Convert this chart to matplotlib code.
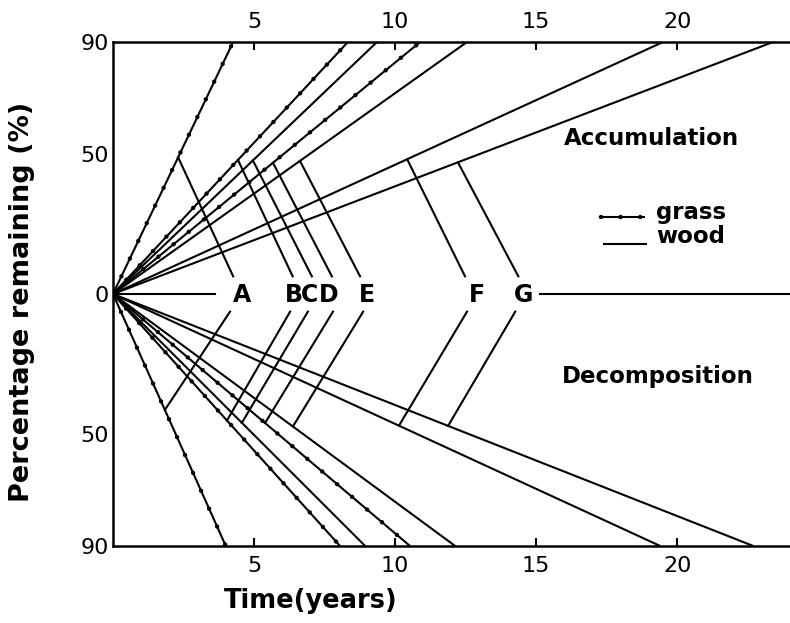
import matplotlib
matplotlib.use("Agg")
import matplotlib.pyplot as plt

# =========================
# Data
# =========================

LABELS = ["A", "B", "C", "D", "E", "F", "G"]
KIND = ["grass", "grass", "wood", "grass", "wood", "wood", "wood"]

# time (years) at which each accumulation / decomposition line reaches 90 %
ACCUM_T90 = [4.26, 8.33, 9.36, 10.89, 12.55, 19.5, 23.4]
DECOMP_T90 = [4.0, 8.05, 8.94, 10.53, 12.13, 19.4, 22.7]

# connector lines from the curves to the letters
UP_START_T = [2.31, 4.43, 4.96, 5.67, 6.63, 10.43, 12.23]
UP_START_Y = [48.8, 47.9, 47.7, 46.9, 47.5, 48.1, 47.0]
UP_END_T = [4.26, 6.37, 7.05, 7.76, 8.76, 12.48, 14.37]
LO_START_T = [4.15, 6.28, 6.91, 7.80, 8.87, 12.55, 14.26]
LO_END_T = [1.84, 4.04, 4.57, 5.39, 6.38, 10.14, 11.88]
LO_END_Y = [-41.4, -45.2, -46.0, -46.1, -47.3, -47.0, -47.1]

# letter positions on the zero line
LABEL_T = [4.57, 6.40, 6.97, 7.64, 9.02, 12.89, 14.57]

# zero line pieces
ZERO_SEGMENTS = [(0.0, 3.62), (15.14, 24.0)]

X_TICKS = [5, 10, 15, 20]
Y_TICKS = [-90, -50, 0, 50, 90]
Y_TICK_LABELS = ["90", "50", "0", "50", "90"]

# =========================
# Style
# =========================

LW = 1.5


def draw_line(ax, xs, ys, kind):
    ax.plot(xs, ys, color="black", lw=LW, solid_capstyle="butt", zorder=3)
    if kind == "grass":
        ax.plot(xs, ys, color="black", lw=3.2, linestyle=(0, (0.01, 4.4)),
                dash_capstyle="round", zorder=4)


fig = plt.figure(figsize=(7.90, 6.23), dpi=100)
ax = fig.add_axes([0.143, 0.1236, 0.857, 0.809])
ax.set_xlim(0, 24)
ax.set_ylim(-90, 90)

# fan of lines
for t90, kind in zip(ACCUM_T90, KIND):
    draw_line(ax, [0, t90], [0, 90], kind)
for t90, kind in zip(DECOMP_T90, KIND):
    draw_line(ax, [0, t90], [0, -90], kind)

# zero line
for x0, x1 in ZERO_SEGMENTS:
    ax.plot([x0, x1], [0, 0], color="black", lw=LW, zorder=3)

# connectors and letters
gap = 6.3
for i, lab in enumerate(LABELS):
    ax.plot([UP_START_T[i], UP_END_T[i]], [UP_START_Y[i], gap],
            color="black", lw=LW, zorder=3)
    ax.plot([LO_START_T[i], LO_END_T[i]], [-gap, LO_END_Y[i]],
            color="black", lw=LW, zorder=3)
    ax.text(LABEL_T[i], -0.5, lab, ha="center", va="center",
            fontsize=17, fontweight="bold")

# region labels
ax.text(19.1, 55.5, "Accumulation", ha="center", va="center",
        fontsize=16.5, fontweight="bold")
ax.text(19.3, -29.5, "Decomposition", ha="center", va="center",
        fontsize=16.5, fontweight="bold")

# legend drawn by hand
draw_line(ax, [17.3, 18.87], [27.5, 27.5], "grass")
draw_line(ax, [17.38, 18.94], [18.0, 18.0], "wood")
ax.text(19.25, 29.0, "grass", ha="left", va="center",
        fontsize=16.5, fontweight="bold")
ax.text(19.25, 20.5, "wood", ha="left", va="center",
        fontsize=16.5, fontweight="bold")

# axes
for side in ["left", "top", "bottom"]:
    ax.spines[side].set_linewidth(1.8)
ax.spines["right"].set_visible(False)

ax.set_xticks(X_TICKS)
ax.set_xticklabels([str(v) for v in X_TICKS])
ax.set_yticks(Y_TICKS)
ax.set_yticklabels(Y_TICK_LABELS)
ax.tick_params(axis="x", direction="in", length=6, width=1.5,
               top=True, labeltop=True, pad=7, labelsize=16)
ax.tick_params(axis="y", length=0, pad=3, labelsize=16)

fig.text(0.028, 0.515, "Percentage remaining (%)", rotation=90,
         ha="center", va="center", fontsize=19.5, fontweight="bold")
fig.text(0.393, 0.036, "Time(years)", ha="center", va="center",
         fontsize=18.5, fontweight="bold")

fig.savefig("out.png", dpi=100)
